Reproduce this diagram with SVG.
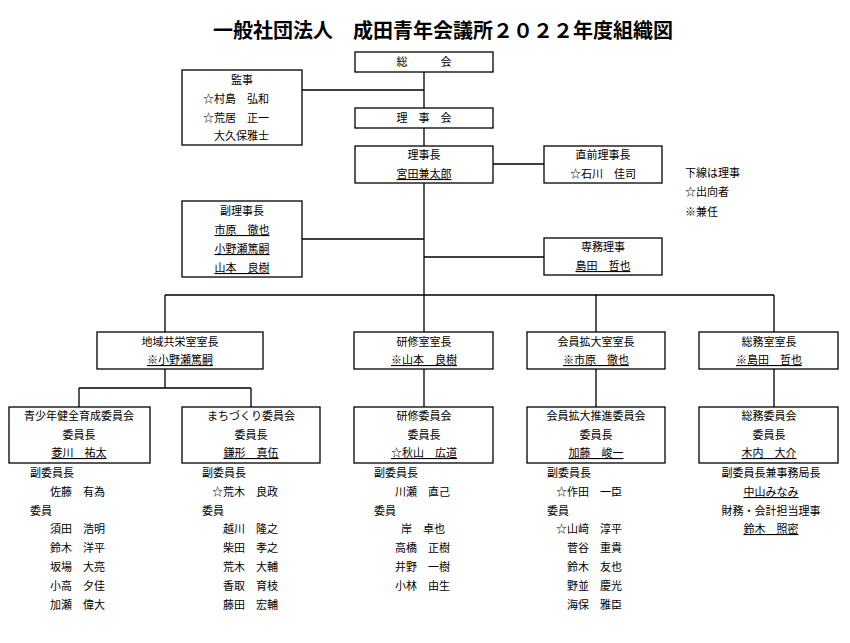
<svg xmlns="http://www.w3.org/2000/svg" width="850" height="643" viewBox="0 0 850 643">
<style>
text{font-family:"Noto Sans CJK JP","Noto Sans CJK SC",sans-serif;font-size:11px;fill:#000}
.c{text-anchor:middle}
.u{text-decoration:underline}
.t{font-size:20px;font-weight:bold}
rect{fill:#fff;stroke:#000;stroke-width:1.3}
.ln{stroke:#000;stroke-width:1.3;fill:none}
</style>
<rect x="0" y="0" width="850" height="643" style="fill:#fff;stroke:none"/>
<text class="c t" x="443" y="38">一般社団法人　成田青年会議所２０２２年度組織図</text>
<g id="connectors" class="ln">
<path d="M424 72V332M302 90H424M302 239H424M493 164H544M424 257H544M165 295H774M165 295V332M596 295V332M774 295V332M424 369V407M596 369V407M774 369V407M165 369V388M79 388H251M79 388V407M251 388V407"/>
</g>
<g id="soukai"><rect x="355" y="52" width="138" height="20"/><text class="c" x="424" y="66">総　　　会</text></g>
<g id="kanji"><rect x="182" y="70" width="120" height="75"/><text class="c" x="242" y="84">監事</text><text x="203" y="103">☆村島　弘和</text><text x="203" y="122">☆荒居　正一</text><text x="214" y="140">大久保雅士</text></g>
<g id="rijikai"><rect x="355" y="108" width="138" height="20"/><text class="c" x="424" y="122">理　事　会</text></g>
<g id="rijicho"><rect x="355" y="146" width="138" height="37"/><text class="c" x="424" y="159">理事長</text><text class="c u" x="424" y="178">宮田兼太郎</text></g>
<g id="chokuzen"><rect x="544" y="146" width="118" height="37"/><text class="c" x="603" y="159">直前理事長</text><text class="c" x="603" y="178">☆石川　佳司</text></g>
<g id="legend"><text x="685" y="177">下線は理事</text><text x="685" y="196">☆出向者</text><text x="685" y="216">※兼任</text></g>
<g id="fukuriji"><rect x="182" y="201" width="120" height="76"/><text class="c" x="242" y="215">副理事長</text><text class="c u" x="242" y="234">市原　徹也</text><text class="c u" x="242" y="253">小野瀬篤嗣</text><text class="c u" x="242" y="272">山本　良樹</text></g>
<g id="senmu"><rect x="544" y="238" width="118" height="37"/><text class="c" x="603" y="251">専務理事</text><text class="c u" x="603" y="270">島田　哲也</text></g>
<g id="chiiki"><rect x="97" y="332" width="166" height="37"/><text class="c" x="180" y="346">地域共栄室室長</text><text class="c u" x="180" y="364">※小野瀬篤嗣</text></g>
<g id="kenshushitsu"><rect x="354" y="332" width="139" height="37"/><text class="c" x="424" y="346">研修室室長</text><text class="c u" x="424" y="364">※山本　良樹</text></g>
<g id="kakudaishitsu"><rect x="527" y="332" width="138" height="37"/><text class="c" x="596" y="346">会員拡大室室長</text><text class="c u" x="596" y="364">※市原　徹也</text></g>
<g id="somushitsu"><rect x="699" y="332" width="139" height="37"/><text class="c" x="769" y="346">総務室室長</text><text class="c u" x="769" y="364">※島田　哲也</text></g>
<g id="seishonen"><rect x="9" y="407" width="141" height="56"/><text class="c" x="79" y="420">青少年健全育成委員会</text><text class="c" x="79" y="439">委員長</text><text class="c u" x="79" y="457">菱川　祐太</text>
<text x="30" y="477">副委員長</text><text x="50" y="496">佐藤　有為</text><text x="30" y="515">委員</text><text x="50" y="533">須田　浩明</text><text x="50" y="552">鈴木　洋平</text><text x="50" y="571">坂場　大亮</text><text x="50" y="590">小高　夕佳</text><text x="50" y="609">加瀬　偉大</text></g>
<g id="machi"><rect x="182" y="407" width="138" height="56"/><text class="c" x="251" y="420">まちづくり委員会</text><text class="c" x="251" y="439">委員長</text><text class="c u" x="251" y="457">鎌形　真伍</text>
<text x="202" y="477">副委員長</text><text x="212" y="496">☆荒木　良政</text><text x="202" y="515">委員</text><text x="223" y="533">越川　隆之</text><text x="223" y="552">柴田　孝之</text><text x="223" y="571">荒木　大輔</text><text x="223" y="590">香取　育枝</text><text x="223" y="609">藤田　宏輔</text></g>
<g id="kenshu"><rect x="354" y="407" width="139" height="56"/><text class="c" x="424" y="420">研修委員会</text><text class="c" x="424" y="439">委員長</text><text class="c u" x="424" y="457">☆秋山　広道</text>
<text x="374" y="477">副委員長</text><text x="395" y="496">川瀬　直己</text><text x="374" y="515">委員</text><text x="401" y="533">岸　卓也</text><text x="395" y="552">高橋　正樹</text><text x="395" y="571">井野　一樹</text><text x="395" y="590">小林　由生</text></g>
<g id="kakudai"><rect x="527" y="407" width="138" height="56"/><text class="c" x="596" y="420">会員拡大推進委員会</text><text class="c" x="596" y="439">委員長</text><text class="c u" x="596" y="457">加藤　峻一</text>
<text x="547" y="477">副委員長</text><text x="556" y="496">☆作田　一臣</text><text x="547" y="515">委員</text><text x="556" y="533">☆山﨑　淳平</text><text x="567" y="552">菅谷　重貴</text><text x="567" y="571">鈴木　友也</text><text x="567" y="590">野並　慶光</text><text x="567" y="609">海保　雅臣</text></g>
<g id="somu"><rect x="699" y="407" width="139" height="56"/><text class="c" x="769" y="420">総務委員会</text><text class="c" x="769" y="439">委員長</text><text class="c u" x="769" y="457">木内　大介</text>
<text class="c" x="771" y="477">副委員長兼事務局長</text><text class="c u" x="771" y="496">中山みなみ</text><text class="c" x="771" y="515">財務・会計担当理事</text><text class="c u" x="771" y="533">鈴木　照密</text></g>
</svg>
